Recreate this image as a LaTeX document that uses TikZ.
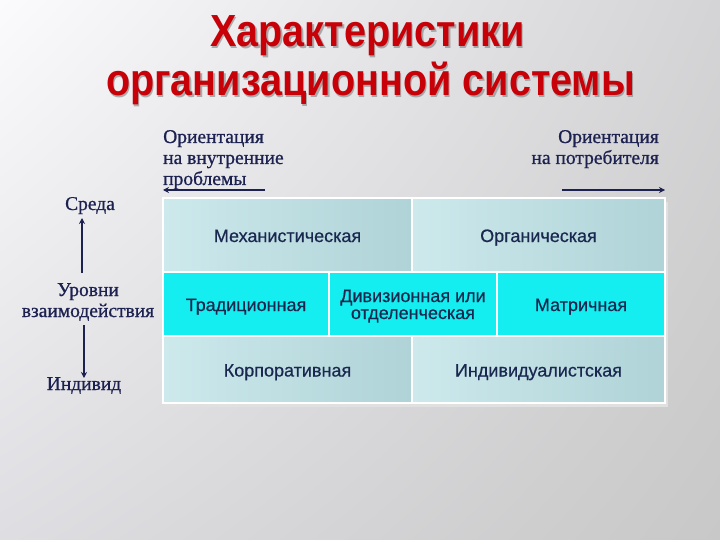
\documentclass[tikz,border=0pt]{standalone}
\usepackage{fontspec}
\setmainfont{Liberation Serif}
\newfontfamily\lblfont[FakeBold=0.8]{Liberation Serif}
\newfontfamily\cellfont[FakeBold=0.5]{Liberation Sans}
\newfontfamily\titlefont[FakeStretch=0.88]{Liberation Sans Bold}
\usetikzlibrary{arrows.meta,shadings}
\definecolor{navy}{HTML}{1C2150}
\definecolor{cellnavy}{HTML}{1A2850}
\definecolor{titlered}{HTML}{C80008}
\definecolor{tealA}{HTML}{CDE9EC}
\definecolor{tealB}{HTML}{AFD3D7}
\definecolor{cellcyan}{HTML}{14EEF0}
\definecolor{bgUL}{HTML}{FBFBFD}
\definecolor{bgUR}{HTML}{D4D4D6}
\definecolor{bgLL}{HTML}{DEDEE2}
\definecolor{bgLR}{HTML}{C8C8C8}
\tikzset{
  cell/.style={draw=white, line width=1.2pt, inner sep=0pt, align=center,
    text=cellnavy, text height=17pt, text depth=3pt,
    font=\cellfont\fontsize{18}{17}\selectfont},
  tealcell/.style={cell, left color=tealA, right color=tealB},
  cyancell/.style={cell, fill=cellcyan},
  lbl/.style={text=navy, inner sep=0pt, font=\lblfont\fontsize{19.5}{21}\selectfont},
  arr/.style={draw=navy, line width=1.8pt, -{Stealth[length=6pt,width=6pt]}},
  ttl/.style={inner sep=0pt, anchor=base, font=\titlefont\fontsize{45}{50}\selectfont}
}
\begin{document}
\begin{tikzpicture}[x=1pt,y=-1pt]
\useasboundingbox (0,0) rectangle (720,540);
\shade[upper left=bgUL, upper right=bgUR, lower left=bgLL, lower right=bgLR]
  (0,0) rectangle (720,540);
% title
\node[ttl, text=black!50, opacity=0.6] at (369,48.5) {Характеристики};
\node[ttl, text=black!50, opacity=0.6] at (372,97.5) {организационной системы};
\node[ttl, text=titlered] (title1) at (367.5,47) {Характеристики};
\node[ttl, text=titlered] (title2) at (370.5,96) {организационной системы};
% table shadow
\fill[black!12] (165,202) rectangle (668,407);
% cells
\node[tealcell, minimum width=249pt, minimum height=74pt] (mech) at (287.5,235) {Механистическая};
\node[tealcell, minimum width=253pt, minimum height=74pt] (org) at (538.5,235) {Органическая};
\node[cyancell, minimum width=166pt, minimum height=64pt] (trad) at (246,304) {Традиционная};
\node[cyancell, minimum width=168pt, minimum height=64pt, text height=33pt] (div) at (413,304) {Дивизионная или\\отделенческая};
\node[cyancell, minimum width=168pt, minimum height=64pt] (matr) at (581,304) {Матричная};
\node[tealcell, minimum width=249pt, minimum height=67pt] (corp) at (287.5,369.5) {Корпоративная};
\node[tealcell, minimum width=253pt, minimum height=67pt] (ind) at (538.5,369.5) {Индивидуалистская};
% labels (base anchor = baseline of last line)
\node[lbl, anchor=base west, align=left] (orin) at (163,185) {Ориентация\\на внутренние\\проблемы};
\node[lbl, anchor=base east, align=right] (orout) at (659,164) {Ориентация\\на потребителя};
\node[lbl, anchor=base] (sreda) at (90,210) {Среда};
\node[lbl, anchor=base, align=center] (lvl) at (88,317) {Уровни\\взаимодействия};
\node[lbl, anchor=base] (indiv) at (84,390) {Индивид};
% arrows
\coordinate (la1) at (265,190); \coordinate (la2) at (163,190);
\coordinate (ra1) at (562,190); \coordinate (ra2) at (665,190);
\coordinate (ua1) at (82,273); \coordinate (ua2) at (82,218);
\coordinate (da1) at (84,325); \coordinate (da2) at (84,378);
\draw[arr] (la1) -- (la2);
\draw[arr] (ra1) -- (ra2);
\draw[arr] (ua1) -- (ua2);
\draw[arr] (da1) -- (da2);
\end{tikzpicture}
\end{document}
